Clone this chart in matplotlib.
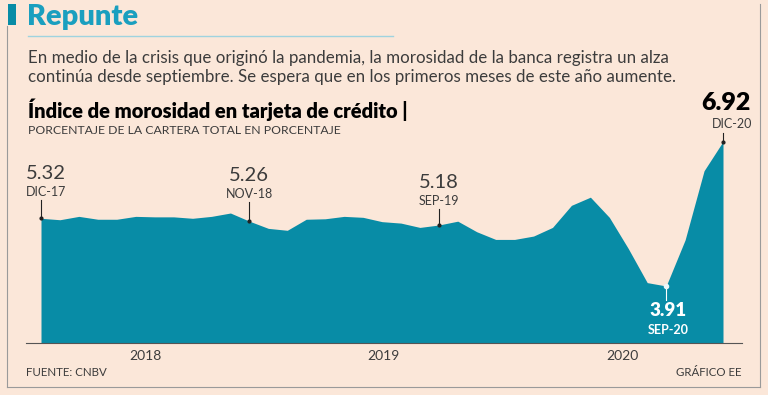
import numpy as np
import matplotlib
matplotlib.use("Agg")
from matplotlib import pyplot as plt

# Datos: indice de morosidad en tarjeta de credito (%), dic-17 a dic-20
months = ["DIC-17", "ENE-18", "FEB-18", "MAR-18", "ABR-18", "MAY-18", "JUN-18", "JUL-18",
          "AGO-18", "SEP-18", "OCT-18", "NOV-18", "DIC-18", "ENE-19", "FEB-19", "MAR-19",
          "ABR-19", "MAY-19", "JUN-19", "JUL-19", "AGO-19", "SEP-19", "OCT-19", "NOV-19",
          "DIC-19", "ENE-20", "FEB-20", "MAR-20", "ABR-20", "MAY-20", "JUN-20", "JUL-20",
          "AGO-20", "SEP-20", "OCT-20", "NOV-20", "DIC-20"]
values = [5.32, 5.29, 5.36, 5.30, 5.30, 5.36, 5.35, 5.35,
          5.32, 5.36, 5.43, 5.26, 5.11, 5.07, 5.30, 5.31,
          5.36, 5.34, 5.25, 5.22, 5.13, 5.18, 5.26, 5.04,
          4.88, 4.88, 4.95, 5.13, 5.59, 5.76, 5.34, 4.69,
          3.98, 3.91, 4.87, 6.31, 6.92]
year_labels = ["2018", "2019", "2020"]
year_pos = [5.5, 18.1, 30.7]

BG = "#fbe7d9"
AREA = "#088ca6"
TEAL = "#1a9fbf"
GRAY = "#3c3c3c"
FONT = "Lato"

W, H = 768, 395
fig = plt.figure(figsize=(W / 100, H / 100), dpi=100)
fig.patch.set_facecolor(BG)

def fx(px):
    return px / W

def fy(py):
    return 1 - py / H

# marco
fig.add_artist(plt.Line2D([fx(7), fx(7)], [fy(26), fy(387)], color="#9a9a9a", lw=0.8))
fig.add_artist(plt.Line2D([fx(7), fx(760)], [fy(387), fy(387)], color="#9a9a9a", lw=0.8))
fig.add_artist(plt.Line2D([fx(760), fx(760)], [fy(4), fy(387)], color="#9a9a9a", lw=0.8))
fig.add_artist(plt.Rectangle((fx(8), fy(25)), fx(8), 21 / H, color=AREA, lw=0))
fig.add_artist(plt.Line2D([fx(28), fx(393)], [fy(36), fy(36)], color="#9fd3df", lw=1))

fig.text(fx(27), fy(17), "Repunte", color=TEAL, fontsize=21, fontweight="heavy",
         family=FONT, va="center")
fig.text(fx(28), fy(58), "En medio de la crisis que originó la pandemia, la morosidad de la banca registra un alza",
         color=GRAY, fontsize=12.2, family=FONT, va="center")
fig.text(fx(28), fy(77), "continúa desde septiembre. Se espera que en los primeros meses de este año aumente.",
         color=GRAY, fontsize=12.2, family=FONT, va="center")
fig.text(fx(28), fy(110), "Índice de morosidad en tarjeta de crédito |", color="black",
         fontsize=14.5, fontweight="heavy", family=FONT, va="center")
fig.text(fx(28), fy(131), "PORCENTAJE DE LA CARTERA TOTAL EN PORCENTAJE", color=GRAY,
         fontsize=8.8, family=FONT, va="center")
fig.text(fx(26), fy(373), "FUENTE: CNBV", color=GRAY, fontsize=8.3, family=FONT, va="center")
fig.text(fx(742), fy(373), "GRÁFICO EE", color=GRAY, fontsize=8.3, family=FONT,
         va="center", ha="right")

# grafica
px_month = (723 - 41) / 36
px_unit = 48.0
ax = fig.add_axes([fx(26), fy(343), fx(742 - 26), (343 - 100) / H])
ax.set_facecolor("none")
x = np.arange(len(values))
ax.fill_between(x, values, 0, color=AREA, lw=0)
ax.set_xlim(-(41 - 26) / px_month, 36 + (742 - 723) / px_month)
ybase = values[0] - (343 - 218.3) / px_unit
ax.set_ylim(ybase, ybase + (343 - 100) / px_unit)
for s in ["top", "right", "left"]:
    ax.spines[s].set_visible(False)
ax.spines["bottom"].set_color("#555555")
ax.spines["bottom"].set_linewidth(0.8)
ax.set_yticks([])
ax.set_xticks(year_pos)
ax.set_xticklabels(year_labels, family=FONT, fontsize=10, color=GRAY)
ax.tick_params(axis="x", length=0, pad=5)

# etiquetas de puntos
def label_above(i, dy_line, ha="center", dx=0, dx_lab=None, bold=False, big=14.5):
    xv, yv = x[i], values[i]
    if dx_lab is None:
        dx_lab = dx
    ax.plot([xv, xv], [yv, yv + dy_line / px_unit], color="#222222", lw=0.8, clip_on=False)
    ax.plot(xv, yv, "o", ms=2, color="#222222", clip_on=False)
    off_lab = 10 if bold else 8
    off_num = 31 if bold else 27
    ax.annotate(months[i], (xv, yv), xytext=(dx_lab, dy_line + off_lab), textcoords="offset pixels",
                ha=ha, va="center", fontsize=9, color=GRAY, family=FONT)
    ax.annotate(f"{yv:.2f}", (xv, yv), xytext=(dx, dy_line + off_num), textcoords="offset pixels",
                ha=ha, va="center", fontsize=big, color="black" if bold else GRAY,
                fontweight="heavy" if bold else "normal", family=FONT)

label_above(0, 18, ha="left", dx=-15)
label_above(11, 19)
label_above(21, 16)
label_above(36, 8, dx=3, dx_lab=9, bold=True, big=18)

i = 33
ax.plot([x[i], x[i]], [values[i], values[i] - 14 / px_unit], color="white", lw=0.8)
ax.plot(x[i], values[i], "o", ms=3, color="#eef7f9")
ax.annotate(f"{values[i]:.2f}", (x[i], values[i]), xytext=(2, -25), textcoords="offset pixels",
            ha="center", va="center", fontsize=13.5, color="white", fontweight="heavy", family=FONT)
ax.annotate(months[i], (x[i], values[i]), xytext=(2, -44), textcoords="offset pixels",
            ha="center", va="center", fontsize=9, color="white", fontweight="bold", family=FONT)

fig.savefig("out.png", dpi=100, facecolor=BG)
